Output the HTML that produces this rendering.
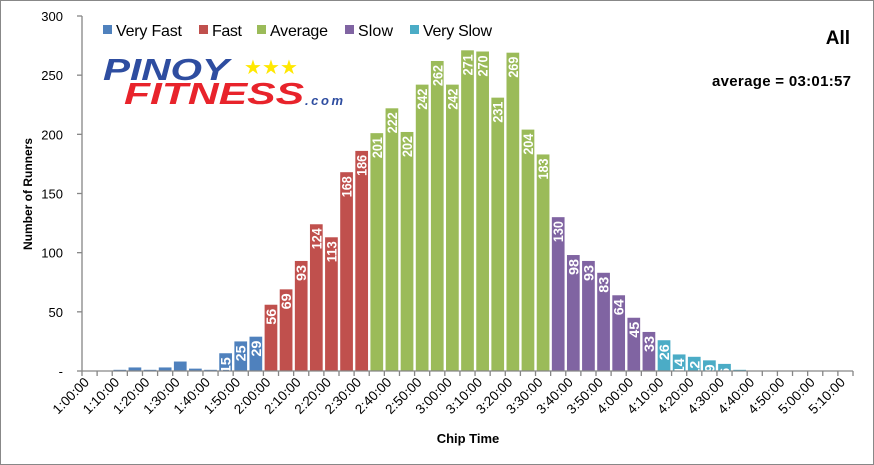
<!DOCTYPE html>
<html><head><meta charset="utf-8"><style>
html,body{margin:0;padding:0;background:#fff}
svg{display:block;font-family:"Liberation Sans",Arial,sans-serif}
</style></head><body>
<svg id="c" width="874" height="465" xmlns="http://www.w3.org/2000/svg">
<defs id="defs"></defs>
<rect x="0.5" y="0.5" width="873" height="464" fill="#fff" stroke="#888"/>
<g id="bars"></g>
<g id="axes" stroke="#868686" stroke-width="1.3" fill="none"></g>
<g id="ylab" font-size="13" fill="#000" text-anchor="end"></g>
<g id="xlab" font-size="13.5" fill="#000" text-anchor="end"></g>
<text transform="translate(32,194) rotate(-90)" x="0" y="0" font-size="12" font-weight="bold" text-anchor="middle">Number of Runners</text>
<text x="468" y="443" font-size="13" font-weight="bold" text-anchor="middle">Chip Time</text>
<g font-size="16">
<rect x="103" y="25" width="9" height="9" fill="#4F81BD"/><text x="116" y="36" textLength="66">Very Fast</text>
<rect x="199" y="25" width="9" height="9" fill="#C0504D"/><text x="212" y="36" textLength="30">Fast</text>
<rect x="257" y="25" width="9" height="9" fill="#9BBB59"/><text x="270" y="36" textLength="58">Average</text>
<rect x="345" y="25" width="9" height="9" fill="#8064A2"/><text x="358" y="36" textLength="35">Slow</text>
<rect x="410" y="25" width="9" height="9" fill="#4BACC6"/><text x="423" y="36" textLength="69">Very Slow</text>
</g>
<text x="850" y="44" font-size="19" font-weight="bold" text-anchor="end">All</text>
<text x="851" y="86" font-size="15" font-weight="bold" text-anchor="end" textLength="139">average = 03:01:57</text>
<text x="103" y="80" font-size="31" font-weight="900" font-style="italic" fill="#2E4DA0" textLength="126" lengthAdjust="spacingAndGlyphs">PINOY</text>
<text x="124" y="104" font-size="31" font-weight="900" font-style="italic" fill="#E8232B" textLength="180" lengthAdjust="spacingAndGlyphs">FITNESS</text>
<text x="305" y="105" font-size="13" font-weight="bold" font-style="italic" fill="#2E4DA0" textLength="38">.com</text>
<g fill="#FFE800" font-size="20"><text x="244" y="74">★</text><text x="262" y="74">★</text><text x="280" y="74">★</text></g>
</svg>
<script>
var NS="http://www.w3.org/2000/svg";
function el(p,t,a,txt){var e=document.createElementNS(NS,t);for(var k in a)e.setAttribute(k,a[k]);if(txt!=null)e.textContent=txt;(typeof p=="string"?document.getElementById(p):p).appendChild(e);return e;}
var x0=82,x1=853,y0=371,ytop=16,n=51,w=(x1-x0)/n,s=(y0-ytop)/300;
var v=[0,0,1,3,1,3,8,2,1,15,25,29,56,69,93,124,113,168,186,201,222,202,242,262,242,271,270,231,269,204,183,130,98,93,83,64,45,33,26,14,12,9,6,1,0,0,0,0,0,0,0];
function col(i){return i<12?"#4F81BD":i<19?"#C0504D":i<31?"#9BBB59":i<38?"#8064A2":"#4BACC6";}
var LEN={1:8,2:16,3:21};
for(var i=0;i<n;i++){if(!v[i])continue;var h=v[i]*s,bx=x0+i*w+1.2,bw=w-2.4;
el("bars","rect",{x:bx,y:y0-h,width:bw,height:h,fill:col(i)});
if(i>=9&&i<=42){var cp=el("defs","clipPath",{id:"cp"+i});el(cp,"rect",{x:bx,y:y0-h,width:bw,height:h});
var g=el("bars","g",{"clip-path":"url(#cp"+i+")"});
var str=String(v[i]);
var cx=bx+bw/2+5,ty=y0-h+4;el(g,"text",{x:0,y:0,transform:"translate("+cx+","+ty+") rotate(-90)","text-anchor":"end","font-size":"14","font-weight":"bold",fill:"#fff",textLength:LEN[str.length],lengthAdjust:"spacingAndGlyphs"},str);}}
el("axes","line",{x1:x0,y1:ytop,x2:x0,y2:y0});
el("axes","line",{x1:x0,y1:y0,x2:x1,y2:y0});
for(var j=0;j<=6;j++){var y=y0-j*50*s;el("axes","line",{x1:x0-5,y1:y,x2:x0,y2:y});
el("ylab","text",{x:63,y:y+5},j?String(j*50):"-");}
for(var i=0;i<=n;i++){var x=x0+i*w;el("axes","line",{x1:x,y1:y0,x2:x,y2:y0+5});
if(i%2==0){var m=60+i*5,hh=Math.floor(m/60),mm=m%60;var lab=hh+":"+(mm<10?"0":"")+mm+":00";
el("xlab","text",{x:0,y:0,transform:"translate("+(x+8)+","+(y0+12)+") rotate(-45)"},lab);}}
</script>
</body></html>
